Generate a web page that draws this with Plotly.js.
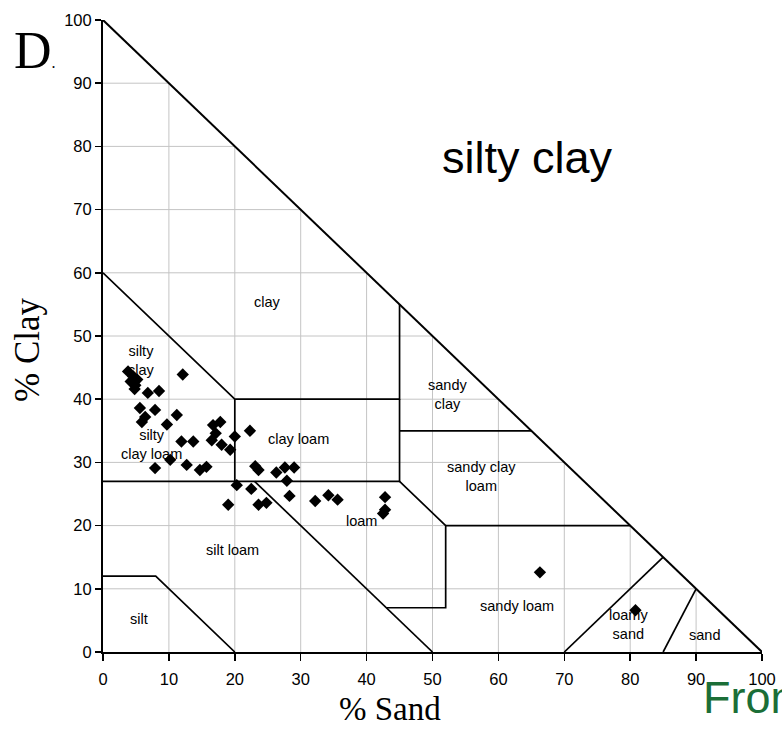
<!DOCTYPE html>
<html>
<head>
<meta charset="utf-8">
<script src="https://cdn.plot.ly/plotly-3.0.1.min.js"></script>
<style>html,body{margin:0;padding:0;background:#fff;overflow:hidden;}#chart{width:782px;height:730px;}</style>
</head>
<body>
<div id="chart"></div>
<script>
// ---- data ----
var sandPct = [3.8,4.6,5.2,4.2,4.9,4.8,6.8,8.5,12.1,5.6,7.9,6.4,5.9,9.7,11.2,
  11.9,13.7,7.9,10.2,12.7,14.7,15.7,
  17.8,16.7,17.1,16.5,18.0,19.3,20.0,22.3,
  23.1,23.6,26.3,27.6,29.0,27.9,28.3,20.3,22.5,19.0,23.6,24.8,
  32.2,34.2,35.6,42.8,42.8,42.5,66.3,80.8];
var clayPct = [44.4,43.6,43.1,42.8,42.2,41.6,41.0,41.3,43.9,38.6,38.3,37.2,36.4,36.0,37.5,
  33.3,33.3,29.1,30.4,29.6,28.8,29.3,
  36.4,35.9,34.6,33.5,32.8,32.0,34.1,35.0,
  29.4,28.8,28.4,29.2,29.2,27.1,24.7,26.4,25.8,23.3,23.3,23.6,
  23.9,24.8,24.1,24.5,22.5,21.9,12.6,6.6];

var tickVals = [0,10,20,30,40,50,60,70,80,90,100];

// texture class boundaries, [sand, clay] vertices of each polyline
var boundaries = [
  [[0,100],[100,0]],
  [[0,60],[20,40],[45,40],[45,55]],
  [[45,35],[65,35]],
  [[20,40],[20,27]],
  [[0,27],[45,27],[45,40]],
  [[45,27],[52,20],[52,7],[43,7]],
  [[23,27],[50,0]],
  [[52,20],[80,20]],
  [[0,12],[8,12],[20,0]],
  [[70,0],[85,15]],
  [[85,0],[90,10]]
];

var classLabels = [
  {t:"clay", s:25, c:55.4},
  {t:"silty<br>clay", s:5.8, c:46.2},
  {t:"silty<br>clay loam", s:7.4, c:32.8},
  {t:"clay loam", s:29.7, c:33.7},
  {t:"sandy<br>clay", s:52.2, c:40.8},
  {t:"sandy clay<br>loam", s:57.5, c:27.8},
  {t:"loam", s:39.3, c:20.7},
  {t:"silt loam", s:19.7, c:16.1},
  {t:"silt", s:5.5, c:5.2},
  {t:"sandy loam", s:62.8, c:7.3},
  {t:"loamy<br>sand", s:79.8, c:4.3},
  {t:"sand", s:91.2, c:2.7}
];

// ---- traces ----
var traces = [];
// gridlines clipped to triangle
tickVals.forEach(function(v){
  if (v > 0 && v < 100) {
    traces.push({x:[v,v], y:[0,100-v], mode:'lines', line:{color:'#c4c4c4', width:1}, hoverinfo:'skip', showlegend:false});
    traces.push({x:[0,100-v], y:[v,v], mode:'lines', line:{color:'#c4c4c4', width:1}, hoverinfo:'skip', showlegend:false});
  }
});
boundaries.forEach(function(b, i){
  traces.push({
    x: b.map(function(p){return p[0];}),
    y: b.map(function(p){return p[1];}),
    mode:'lines', line:{color:'#000', width: i===0 ? 2 : 1.7},
    hoverinfo:'skip', showlegend:false
  });
});
traces.push({
  x: sandPct, y: clayPct, mode:'markers', type:'scatter',
  marker:{symbol:'diamond', size:9.5, color:'#000'}, showlegend:false
});

var ann = classLabels.map(function(l){
  return {x:l.s, y:l.c, xref:'x', yref:'y', text:l.t, showarrow:false,
    font:{family:'Liberation Sans, Arial', size:14.5, color:'#000'}};
});
ann.push({x:64.4, y:78.3, xref:'x', yref:'y', text:'silty clay', showarrow:false,
  font:{family:'Liberation Sans, Arial', size:45, color:'#000'}});
ann.push({xref:'paper', yref:'paper', x:(390-103)/659, y:-(709-652)/632, yanchor:'middle',
  text:'% Sand', showarrow:false, font:{family:'Liberation Serif, Times New Roman', size:33, color:'#000'}});
ann.push({xref:'paper', yref:'paper', x:-(103-27)/659, y:(652-350)/632, xanchor:'center', yanchor:'middle',
  text:'% Clay', textangle:-90, showarrow:false, font:{family:'Liberation Serif, Times New Roman', size:35, color:'#000'}});
ann.push({xref:'paper', yref:'paper', x:-(103-12)/659, y:(652-50)/632, xanchor:'left', yanchor:'middle',
  text:'D<span style="font-size:16px">.</span>', showarrow:false, font:{family:'Liberation Serif, Times New Roman', size:52, color:'#000'}});
ann.push({xref:'paper', yref:'paper', x:(701-103)/659, y:-(697-652)/632, xanchor:'left', yanchor:'middle',
  text:'From', showarrow:false, font:{family:'Liberation Sans, Arial', size:45, color:'#1b6e37'}});

var layout = {
  width:782, height:730,
  margin:{l:103, r:20, t:20, b:78},
  paper_bgcolor:'#fff', plot_bgcolor:'#fff',
  xaxis:{range:[0,100], tickvals:tickVals, showgrid:false, zeroline:false,
    showline:true, linecolor:'#000', linewidth:2, ticks:'outside', ticklen:7, tickcolor:'#000', tickwidth:1.5,
    ticklabelstandoff:4,
    tickfont:{family:'Liberation Sans, Arial', size:16.5, color:'#000'}},
  yaxis:{range:[0,100], tickvals:tickVals, showgrid:false, zeroline:false,
    showline:true, linecolor:'#000', linewidth:2, ticks:'outside', ticklen:6, tickcolor:'#000', tickwidth:1.5,
    tickfont:{family:'Liberation Sans, Arial', size:16.5, color:'#000'}},
  annotations: ann,
  showlegend:false
};
Plotly.newPlot('chart', traces, layout, {displayModeBar:false, staticPlot:true});
</script>
</body>
</html>
